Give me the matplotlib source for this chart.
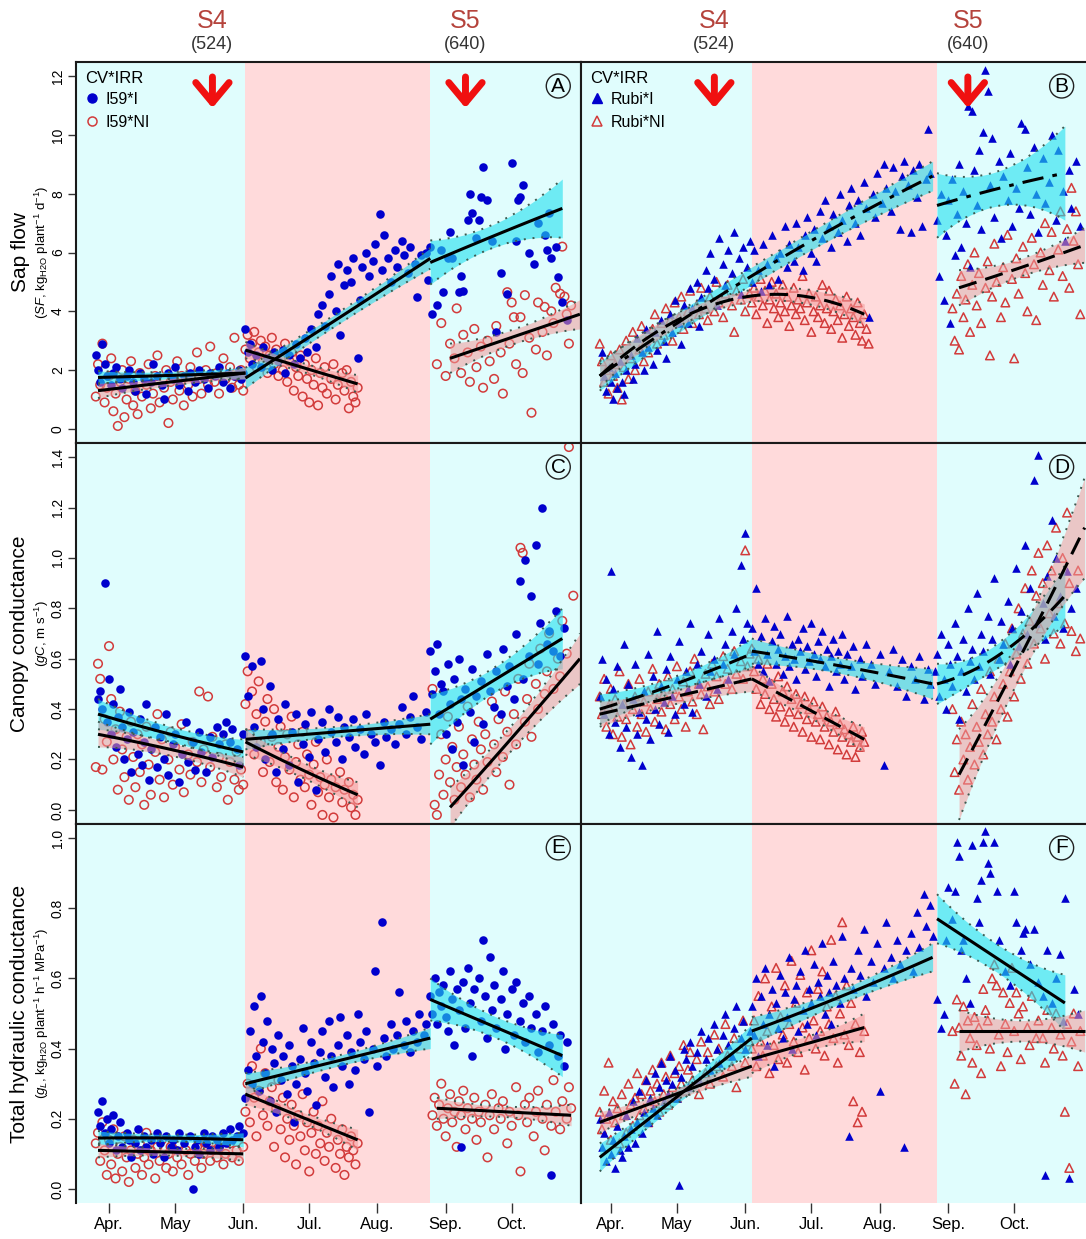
import numpy as np
import matplotlib
matplotlib.use('Agg')
import matplotlib.pyplot as plt
from matplotlib.lines import Line2D

plt.rcParams['font.family'] = ['Liberation Sans', 'DejaVu Sans']
plt.rcParams['mathtext.fontset'] = 'custom'
plt.rcParams['mathtext.rm'] = 'Liberation Sans'
plt.rcParams['mathtext.it'] = 'Liberation Sans:italic'
plt.rcParams['mathtext.bf'] = 'Liberation Sans:bold'

# ---------------- axis / annotation data ----------------
month_ticks = [91, 121, 152, 182, 213, 244, 274]
month_labels = ['Apr.', 'May', 'Jun.', 'Jul.', 'Aug.', 'Sep.', 'Oct.']
periods_i59 = [153, 237]     # start / end of the pink (stress) period
periods_rubi = [155, 239]
stage_names = ['S4', 'S5']
stage_gdd = ['(524)', '(640)']
stage_doy = [138, 253]
panel_letters = ['A', 'B', 'C', 'D', 'E', 'F']
sf_ticks = [0, 2, 4, 6, 8, 10, 12]
gc_ticks = [0.0, 0.2, 0.4, 0.6, 0.8, 1.0, 1.2, 1.4]
gl_ticks = [0.0, 0.2, 0.4, 0.6, 0.8, 1.0]

# ---------------- scatter data (day of year, value) ----------------
sf_i59_I = [(85,2.5),(86,2.0),(87,1.6),(88,2.9),(89,2.2),(90,1.8),(92,1.5),(93,1.9),(94,2.1),(96,1.7),(97,1.4),(99,1.8),(100,2.0),(102,1.6),(103,1.3),(105,1.9),(107,1.7),(108,1.2),(110,1.6),(111,2.2),(113,1.8),(115,1.5),(116,1.0),(118,1.9),(120,1.7),(121,2.1),(123,1.5),(125,1.8),(127,1.3),(128,1.9),(130,1.6),(132,2.0),(134,1.7),(136,1.4),(137,1.9),(139,1.8),(141,2.1),(143,1.6),(145,1.9),(146,1.4),(148,1.8),(150,2.0),(151,1.7),(152,1.9),
    (153,3.4),(154,2.6),(155,2.9),(156,2.2),(158,2.5),(160,2.1),(161,2.8),(163,2.4),(165,2.0),(166,2.6),(168,2.3),(170,2.7),(171,1.9),(173,2.5),(175,2.2),(176,2.9),(178,2.4),(180,3.1),(181,2.6),(183,3.4),(185,2.8),(186,3.9),(188,4.2),(189,3.5),(191,4.6),(192,5.2),(194,4.0),(195,5.6),(196,3.2),(198,4.9),(199,5.4),(201,5.0),(202,5.8),(204,2.4),(205,4.4),(206,5.5),(208,6.0),(209,5.2),(211,5.7),(212,6.3),(214,7.3),(215,5.4),(216,6.6),(218,5.8),(219,5.0),(221,6.1),(222,5.5),(224,6.4),(225,5.9),(227,5.3),(228,6.2),(230,5.6),(231,4.5),(233,5.9),(235,6.0),
    (236,5.05),(237,6.2),(238,3.9),(240,4.2),(242,6.1),(243,4.65),(245,5.8),(246,6.7),(247,5.8),(250,4.65),(251,5.2),(252,4.7),(254,7.1),(255,8.0),(256,7.35),(258,6.5),(259,7.1),(260,7.9),(261,8.9),(263,7.8),(265,6.4),(267,3.3),(269,5.3),(272,4.6),(274,9.05),(276,6.4),(277,7.8),(278,7.9),(279,8.3),(282,6.0),(284,5.6),(286,7.0),(289,6.6),(290,6.1),(291,7.35),(292,5.8),(294,6.2),(295,5.15),(297,4.3),(299,3.7)]
sf_i59_NI = [(85,1.1),(86,2.2),(87,1.5),(88,2.9),(89,0.9),(90,1.4),(91,1.8),(92,2.4),(93,0.6),(94,1.2),(95,0.1),(96,1.6),(97,2.0),(98,0.4),(99,1.0),(100,1.7),(101,2.3),(102,0.8),(103,1.3),(104,0.5),(105,1.9),(106,1.1),(108,1.5),(109,2.2),(110,0.7),(111,1.2),(112,1.8),(113,2.5),(114,0.9),(116,1.4),(117,2.0),(118,0.2),(119,1.6),(120,1.0),(122,2.3),(123,1.3),(124,1.8),(125,0.8),(127,1.5),(128,2.1),(129,1.1),(131,2.6),(132,1.7),(133,1.2),(135,2.0),(136,1.5),(137,2.8),(139,1.6),(140,1.9),(141,1.2),(143,2.4),(144,1.7),(146,2.1),(147,1.4),(148,3.1),(149,1.8),(150,1.5),(151,2.0),(152,1.3),
    (153,2.7),(154,3.2),(155,2.4),(156,2.9),(157,3.3),(158,2.1),(159,2.6),(160,3.0),(161,2.3),(162,2.8),(163,1.9),(164,2.5),(165,3.1),(166,2.2),(167,2.7),(168,1.8),(169,2.4),(170,2.0),(171,2.9),(172,1.6),(173,2.3),(174,2.6),(175,1.3),(176,2.1),(177,1.8),(178,2.5),(179,1.1),(180,2.2),(181,1.7),(182,0.9),(183,2.0),(184,1.5),(185,2.4),(186,0.8),(187,1.9),(188,1.4),(189,2.1),(190,1.2),(192,1.7),(193,2.2),(194,1.0),(195,1.5),(197,1.9),(198,1.3),(199,2.0),(200,0.7),(201,1.6),(202,1.1),(203,0.9),(204,1.4),
    (240,2.2),(242,3.6),(244,1.8),(246,2.9),(248,2.4),(249,4.1),(251,1.9),(252,3.2),(254,2.6),(255,1.6),(257,3.4),(258,2.1),(260,2.8),(261,1.4),(263,3.0),(264,2.3),(266,1.7),(267,3.5),(269,2.6),(270,1.2),(272,4.65),(273,2.9),(274,4.3),(275,3.8),(276,2.2),(278,3.8),(279,1.9),(280,4.55),(282,3.1),(283,0.55),(285,2.7),(286,4.3),(288,3.3),(289,4.15),(290,2.5),(292,4.0),(293,3.6),(294,4.8),(296,4.6),(297,6.2),(298,4.5),(299,3.9),(300,2.9),(301,4.2)]

gc_i59_I = [(86,0.44),(87,0.47),(88,0.40),(89,0.90),(90,0.35),(91,0.52),(92,0.30),(93,0.42),(94,0.25),(95,0.37),(96,0.48),(97,0.33),(98,0.20),(99,0.28),(100,0.39),(101,0.15),(102,0.31),(104,0.22),(105,0.36),(106,0.18),(107,0.27),(108,0.42),(109,0.12),(110,0.24),(112,0.33),(113,0.17),(114,0.29),(116,0.20),(117,0.38),(118,0.14),(120,0.26),(121,0.30),(123,0.11),(124,0.22),(126,0.35),(127,0.19),(129,0.27),(130,0.16),(132,0.31),(133,0.23),(135,0.15),(137,0.29),(138,0.21),(140,0.33),(141,0.26),(143,0.30),(144,0.35),(146,0.27),(147,0.32),(149,0.24),(150,0.18),(152,0.30),
    (153,0.61),(154,0.45),(156,0.57),(157,0.33),(158,0.25),(160,0.59),(161,0.40),(162,0.20),(164,0.49),(165,0.30),(167,0.15),(168,0.36),(170,0.24),(171,0.42),(173,0.18),(174,0.31),(176,0.38),(177,0.11),(179,0.26),(180,0.34),(182,0.21),(183,0.39),(185,0.08),(186,0.28),(188,0.35),(189,0.23),(191,0.40),(192,0.31),(194,0.27),(195,0.37),(197,0.20),(198,0.33),(200,0.29),(202,0.36),(203,0.25),(205,0.32),(207,0.22),(208,0.38),(210,0.30),(212,0.27),(214,0.18),(216,0.35),(217,0.29),(219,0.32),(221,0.26),(223,0.34),(224,0.41),(226,0.30),(228,0.37),(229,0.45),(231,0.33),(233,0.28),(235,0.39),
    (237,0.63),(238,0.46),(239,0.55),(240,0.66),(241,0.38),(242,0.50),(243,0.47),(244,0.30),(245,0.58),(246,0.42),(247,0.24),(248,0.52),(249,0.35),(250,0.60),(251,0.44),(252,0.18),(253,0.48),(255,0.39),(256,0.56),(257,0.27),(258,0.45),(260,0.51),(261,0.34),(263,0.62),(264,0.47),(266,0.41),(267,0.55),(269,0.38),(270,0.64),(272,0.49),(273,0.57),(275,0.44),(276,0.70),(278,0.91),(279,0.52),(280,0.99),(282,0.61),(283,0.85),(285,1.05),(286,0.58),(287,0.74),(288,1.20),(290,0.66),(291,0.71),(293,0.63),(294,0.79),(296,0.61),(298,0.72)]
gc_i59_NI = [(85,0.17),(86,0.58),(87,0.52),(88,0.16),(89,0.36),(90,0.27),(91,0.65),(92,0.44),(93,0.20),(94,0.32),(95,0.08),(96,0.39),(97,0.24),(98,0.13),(99,0.29),(100,0.04),(101,0.35),(102,0.21),(103,0.09),(104,0.30),(105,0.15),(106,0.26),(107,0.02),(108,0.33),(109,0.18),(110,0.06),(112,0.23),(113,0.38),(114,0.12),(115,0.28),(116,0.05),(118,0.20),(119,0.31),(120,0.10),(121,0.25),(123,0.16),(124,0.34),(125,0.07),(127,0.22),(128,0.14),(129,0.27),(131,0.19),(132,0.47),(133,0.11),(134,0.24),(136,0.45),(137,0.17),(138,0.29),(140,0.09),(141,0.21),(142,0.13),(144,0.26),(145,0.04),(146,0.19),(148,0.12),(149,0.23),(150,0.08),(151,0.16),(152,0.10),
    (153,0.42),(154,0.55),(155,0.30),(156,0.47),(157,0.22),(158,0.38),(159,0.51),(160,0.27),(161,0.15),(162,0.35),(163,0.44),(164,0.19),(165,0.29),(166,0.40),(167,0.11),(168,0.25),(169,0.33),(170,0.08),(171,0.21),(172,0.30),(173,0.16),(174,0.37),(175,0.05),(176,0.19),(177,0.26),(178,0.12),(179,0.31),(180,0.09),(181,0.22),(182,0.14),(183,0.02),(184,0.18),(185,0.27),(186,0.07),(187,0.13),(188,-0.02),(189,0.10),(190,0.20),(191,0.05),(192,0.12),(193,-0.03),(194,0.09),(196,0.15),(197,0.03),(198,0.08),(200,0.11),(201,0.01),(202,0.06),(203,-0.02),(204,0.04),
    (238,0.48),(239,0.02),(240,-0.02),(241,0.14),(242,0.30),(243,0.06),(244,0.20),(245,0.37),(246,0.11),(247,0.25),(248,0.04),(249,0.17),(250,0.33),(251,0.09),(252,0.22),(253,0.14),(254,0.41),(255,0.05),(256,0.28),(257,0.18),(258,0.12),(259,0.35),(260,0.24),(261,0.08),(262,0.30),(263,0.19),(265,0.43),(266,0.26),(267,0.15),(268,0.36),(270,0.21),(271,0.47),(272,0.31),(273,0.10),(275,0.38),(276,0.26),(277,0.52),(278,1.04),(279,1.02),(280,0.35),(281,0.44),(282,0.58),(283,0.29),(285,0.50),(286,0.40),(287,0.64),(289,0.46),(290,0.55),(291,0.70),(293,0.48),(295,0.60),(296,0.53),(297,0.75),(299,0.62),(300,1.44),(302,0.85)]

gl_i59_I = [(86,0.22),(87,0.18),(88,0.25),(89,0.16),(90,0.20),(91,0.13),(92,0.17),(93,0.21),(94,0.11),(95,0.15),(96,0.19),(97,0.12),(99,0.16),(100,0.14),(101,0.09),(103,0.13),(104,0.17),(105,0.11),(107,0.15),(108,0.12),(110,0.14),(111,0.10),(113,0.16),(114,0.13),(116,0.09),(117,0.15),(119,0.12),(120,0.14),(122,0.11),(123,0.16),(125,0.13),(129,0.00),(128,0.15),(130,0.12),(131,0.14),(132,0.10),(134,0.16),(135,0.13),(137,0.11),(138,0.15),(140,0.14),(141,0.12),(143,0.16),(144,0.13),(146,0.17),(147,0.14),(149,0.15),(150,0.18),(152,0.16),
    (153,0.26),(154,0.34),(155,0.45),(156,0.30),(157,0.52),(158,0.38),(159,0.28),(160,0.55),(161,0.42),(162,0.33),(163,0.48),(164,0.25),(165,0.40),(166,0.36),(167,0.22),(168,0.44),(169,0.31),(170,0.38),(172,0.27),(173,0.41),(174,0.35),(175,0.19),(176,0.30),(178,0.37),(179,0.46),(180,0.33),(181,0.28),(183,0.42),(184,0.36),(185,0.24),(187,0.39),(188,0.45),(189,0.32),(191,0.48),(192,0.38),(193,0.29),(195,0.41),(196,0.49),(197,0.35),(199,0.44),(200,0.30),(201,0.39),(203,0.34),(204,0.50),(205,0.42),(207,0.37),(208,0.45),(209,0.22),(211,0.40),(212,0.62),(213,0.35),(215,0.76),(216,0.43),(217,0.38),(219,0.47),(220,0.40),(222,0.44),(223,0.56),(225,0.41),(226,0.48),(228,0.39),(229,0.45),(231,0.42),(232,0.50),(234,0.44),(235,0.47),
    (237,0.55),(238,0.50),(239,0.60),(240,0.47),(241,0.56),(242,0.52),(243,0.58),(244,0.49),(245,0.45),(246,0.62),(247,0.54),(248,0.41),(249,0.57),(250,0.51),(251,0.12),(252,0.59),(253,0.46),(254,0.63),(255,0.53),(256,0.38),(257,0.57),(259,0.60),(260,0.48),(261,0.71),(262,0.55),(263,0.43),(264,0.66),(265,0.51),(266,0.58),(267,0.46),(269,0.54),(270,0.62),(271,0.40),(272,0.50),(274,0.57),(275,0.44),(276,0.59),(278,0.48),(279,0.53),(280,0.42),(282,0.55),(283,0.46),(285,0.50),(286,0.39),(288,0.45),(289,0.52),(291,0.41),(292,0.04),(293,0.47),(295,0.38),(296,0.44),(298,0.35),(299,0.42)]
gl_i59_NI = [(85,0.13),(86,0.16),(87,0.08),(88,0.19),(89,0.11),(90,0.04),(91,0.14),(92,0.07),(93,0.17),(94,0.03),(95,0.10),(96,0.12),(97,0.05),(98,0.15),(99,0.09),(100,0.02),(101,0.11),(102,0.14),(103,0.06),(104,0.10),(105,0.13),(106,0.04),(107,0.09),(108,0.16),(109,0.07),(110,0.11),(112,0.03),(113,0.12),(114,0.08),(115,0.14),(117,0.06),(118,0.10),(119,0.12),(120,0.05),(122,0.09),(123,0.13),(124,0.07),(126,0.11),(127,0.04),(128,0.10),(130,0.08),(131,0.12),(133,0.06),(134,0.10),(135,0.13),(137,0.08),(138,0.11),(140,0.09),(141,0.12),(143,0.07),(144,0.10),(146,0.13),(147,0.09),(149,0.11),(150,0.08),(152,0.12),
    (153,0.22),(154,0.30),(155,0.19),(156,0.35),(157,0.26),(158,0.15),(159,0.28),(160,0.40),(161,0.21),(162,0.33),(163,0.18),(164,0.25),(165,0.29),(166,0.12),(167,0.23),(168,0.31),(169,0.17),(170,0.26),(171,0.09),(172,0.20),(173,0.14),(174,0.24),(175,0.18),(176,0.07),(177,0.21),(178,0.15),(179,0.27),(180,0.11),(181,0.19),(182,0.05),(183,0.16),(184,0.22),(185,0.10),(186,0.18),(187,0.13),(188,0.25),(189,0.08),(190,0.16),(191,0.12),(192,0.20),(194,0.06),(195,0.14),(196,0.10),(197,0.17),(198,0.04),(199,0.12),(200,0.09),(201,0.15),(202,0.11),(203,0.07),(204,0.13),
    (238,0.21),(239,0.26),(240,0.18),(241,0.24),(242,0.30),(243,0.20),(244,0.15),(245,0.23),(246,0.27),(247,0.19),(248,0.22),(249,0.12),(250,0.25),(251,0.21),(252,0.28),(253,0.17),(254,0.23),(256,0.20),(257,0.26),(258,0.14),(259,0.22),(260,0.19),(262,0.24),(263,0.09),(264,0.21),(265,0.27),(266,0.17),(268,0.23),(269,0.20),(270,0.25),(272,0.13),(273,0.22),(274,0.18),(276,0.29),(277,0.21),(278,0.05),(280,0.24),(281,0.19),(282,0.26),(284,0.15),(285,0.22),(286,0.28),(288,0.20),(289,0.11),(290,0.24),(292,0.18),(293,0.31),(294,0.22),(296,0.17),(297,0.25),(299,0.20),(300,0.29),(301,0.23)]

sf_rubi_I = [(87,2.6),(88,1.8),(89,1.3),(90,2.1),(91,1.6),(92,1.0),(93,1.9),(94,1.4),(95,2.3),(96,1.6),(97,1.2),(98,2.0),(100,2.5),(101,1.7),(102,2.2),(103,3.1),(105,2.6),(106,2.0),(107,3.4),(108,2.8),(110,2.2),(111,3.3),(112,2.7),(114,3.7),(115,3.0),(116,2.4),(118,3.9),(119,3.3),(120,4.4),(122,3.6),(123,2.9),(124,4.2),(126,3.6),(127,4.8),(128,4.1),(130,5.0),(131,3.5),(132,4.5),(134,5.4),(135,4.8),(136,6.0),(138,5.1),(139,4.2),(140,6.5),(142,5.6),(143,4.9),(144,6.1),(146,5.3),(147,6.7),(149,5.8),(150,4.6),(151,6.2),(153,5.5),(154,6.4),
    (155,5.0),(156,6.1),(158,5.4),(159,4.7),(160,6.3),(162,5.6),(163,4.9),(164,6.6),(166,5.8),(167,5.1),(168,6.0),(170,6.9),(171,5.5),(172,6.3),(174,5.7),(175,7.0),(176,6.2),(178,5.4),(179,6.6),(180,7.2),(182,6.0),(183,6.8),(184,5.7),(186,7.4),(187,6.5),(188,7.8),(190,6.9),(191,6.2),(192,7.3),(194,6.7),(195,8.0),(196,7.1),(198,6.4),(199,7.6),(200,8.2),(202,7.0),(203,7.8),(204,6.6),(206,8.4),(207,7.5),(208,3.8),(210,8.0),(211,7.2),(212,8.7),(214,7.7),(215,9.0),(216,8.2),(218,7.4),(219,8.9),(220,8.1),(222,6.8),(223,8.6),(224,9.1),(226,8.3),(227,6.7),(228,8.8),(230,7.9),(231,9.0),(232,6.9),(234,8.5),(235,10.2),(236,8.7),
    (239,7.1),(240,5.2),(241,8.0),(242,4.4),(243,6.6),(244,7.8),(245,3.6),(246,8.5),(247,5.9),(248,7.3),(249,9.0),(250,6.2),(251,8.1),(252,7.0),(253,11.0),(254,5.5),(255,10.8),(256,8.8),(257,7.6),(258,9.5),(259,6.8),(260,10.1),(261,12.2),(262,11.5),(263,8.3),(264,9.9),(265,7.2),(267,9.1),(268,6.5),(269,8.6),(271,7.8),(272,9.4),(273,6.9),(275,8.2),(276,7.5),(277,10.4),(279,10.2),(280,8.9),(281,7.3),(283,9.6),(284,8.0),(285,6.7),(287,9.2),(288,7.7),(290,8.4),(291,10.0),(293,7.1),(294,9.5),(296,8.1),(297,6.4),(299,8.8),(300,7.5),(302,9.1),(304,6.9)]
sf_rubi_NI = [(86,2.9),(87,2.3),(88,1.6),(89,2.0),(90,1.2),(91,2.5),(92,1.8),(93,2.2),(94,1.4),(95,2.7),(96,1.0),(97,2.1),(98,3.0),(99,1.7),(100,2.4),(101,3.3),(102,2.0),(104,2.7),(105,3.5),(106,2.3),(107,3.0),(108,2.6),(110,3.4),(111,3.9),(112,2.9),(114,3.6),(115,3.2),(116,4.1),(118,3.7),(119,3.0),(120,4.3),(122,3.8),(123,4.5),(124,3.4),(126,4.0),(127,4.7),(128,3.6),(130,4.2),(131,3.9),(132,4.8),(134,4.1),(135,3.7),(136,4.5),(138,4.0),(139,5.0),(140,4.3),(142,3.8),(143,4.6),(144,4.9),(146,4.2),(147,3.3),(148,4.7),(150,4.4),(151,5.1),(152,4.0),(154,4.6),
    (155,4.3),(156,4.8),(157,3.9),(158,4.5),(159,5.1),(160,4.2),(161,4.7),(162,3.6),(163,4.4),(164,5.0),(165,4.1),(166,4.6),(167,3.8),(168,4.3),(169,4.9),(170,4.0),(171,4.5),(172,3.5),(173,4.2),(174,4.8),(175,3.9),(176,4.4),(177,4.1),(178,5.2),(179,3.7),(180,4.3),(181,4.6),(182,3.3),(183,4.0),(184,4.5),(185,3.8),(186,4.2),(187,4.9),(188,3.6),(189,4.1),(190,4.7),(191,3.4),(192,4.0),(193,4.4),(194,3.7),(195,4.2),(196,3.1),(197,3.9),(198,4.5),(199,3.5),(200,4.1),(201,3.8),(202,3.2),(203,4.3),(204,3.6),(205,3.0),(206,3.9),(207,3.4),(208,2.9),
    (246,4.1),(247,3.0),(248,4.6),(249,2.7),(250,5.2),(251,3.8),(252,4.4),(253,5.6),(254,3.3),(255,4.9),(256,6.0),(257,4.2),(258,5.3),(259,3.6),(261,4.8),(262,5.7),(263,2.5),(264,4.5),(265,6.3),(266,5.0),(268,3.8),(269,5.5),(270,4.3),(271,6.6),(273,5.1),(274,2.4),(275,5.8),(276,4.6),(278,6.2),(279,5.3),(280,4.0),(282,6.5),(283,5.6),(284,3.7),(286,6.0),(287,4.9),(288,7.0),(290,5.4),(291,6.7),(292,4.5),(294,6.1),(295,7.4),(296,5.2),(298,6.8),(299,4.8),(300,8.2),(301,6.4),(302,7.4),(303,5.6),(304,3.9)]

gc_rubi_I = [(86,0.45),(87,0.60),(88,0.38),(89,0.52),(90,0.30),(91,0.95),(92,0.48),(93,0.35),(94,0.57),(95,0.25),(96,0.42),(97,0.66),(98,0.33),(99,0.50),(100,0.21),(101,0.44),(102,0.58),(103,0.30),(104,0.39),(105,0.18),(106,0.47),(107,0.36),(108,0.62),(109,0.28),(110,0.53),(111,0.40),(112,0.71),(113,0.34),(114,0.49),(115,0.43),(116,0.56),(117,0.31),(118,0.61),(119,0.45),(120,0.38),(121,0.52),(122,0.67),(124,0.42),(125,0.55),(126,0.48),(127,0.74),(128,0.39),(130,0.58),(131,0.50),(132,0.63),(134,0.45),(135,0.70),(136,0.55),(138,0.60),(139,0.48),(140,0.76),(142,0.58),(143,0.66),(144,0.52),(146,0.71),(147,0.62),(148,0.80),(150,0.97),(151,0.68),(152,1.10),(153,0.74),
    (155,0.72),(156,0.63),(157,0.88),(158,0.58),(159,0.69),(160,0.55),(161,0.76),(162,0.62),(163,0.51),(164,0.67),(165,0.73),(166,0.58),(167,0.64),(168,0.70),(169,0.54),(170,0.61),(171,0.77),(172,0.57),(173,0.66),(174,0.60),(175,0.52),(176,0.68),(177,0.63),(178,0.72),(179,0.56),(180,0.65),(181,0.59),(182,0.74),(183,0.62),(184,0.53),(185,0.67),(186,0.60),(187,0.71),(188,0.57),(189,0.64),(190,0.49),(191,0.61),(192,0.68),(193,0.55),(194,0.63),(195,0.58),(196,0.70),(197,0.52),(198,0.62),(200,0.57),(201,0.65),(202,0.48),(204,0.60),(205,0.53),(207,0.66),(209,0.58),(211,0.50),(213,0.62),(215,0.18),(217,0.55),(219,0.64),(221,0.49),(223,0.60),(225,0.45),(227,0.57),(229,0.52),(231,0.61),(233,0.44),(235,0.56),(236,0.50),
    (238,0.55),(239,0.62),(240,0.45),(241,0.70),(242,0.52),(243,0.40),(244,0.66),(245,0.58),(246,0.49),(247,0.74),(248,0.61),(249,0.36),(250,0.55),(251,0.68),(252,0.47),(253,0.80),(254,0.59),(255,0.64),(256,0.52),(257,0.86),(258,0.57),(259,0.70),(260,0.63),(262,0.77),(263,0.54),(264,0.68),(265,0.92),(267,0.60),(268,0.75),(269,0.66),(271,0.83),(272,0.58),(273,0.72),(275,0.96),(276,0.65),(277,0.79),(279,1.05),(280,0.70),(281,0.88),(283,1.31),(284,0.74),(285,1.41),(287,0.82),(288,0.68),(289,0.93),(291,1.15),(292,0.77),(293,1.00),(295,0.85),(296,0.72),(298,0.95),(300,0.80),(302,0.88)]
gc_rubi_NI = [(86,0.45),(87,0.38),(88,0.52),(89,0.33),(90,0.41),(91,0.48),(92,0.30),(93,0.44),(94,0.37),(95,0.55),(96,0.29),(97,0.42),(98,0.36),(99,0.50),(100,0.26),(101,0.40),(102,0.45),(103,0.33),(104,0.52),(105,0.38),(106,0.43),(107,0.31),(108,0.47),(109,0.40),(110,0.56),(111,0.35),(112,0.44),(113,0.50),(114,0.39),(115,0.46),(116,0.32),(117,0.53),(118,0.42),(119,0.48),(120,0.36),(121,0.57),(122,0.45),(123,0.40),(124,0.51),(125,0.33),(126,0.47),(127,0.55),(128,0.43),(129,0.60),(130,0.38),(131,0.50),(132,0.46),(133,0.32),(134,0.54),(135,0.49),(136,0.42),(137,0.58),(138,0.47),(139,0.53),(140,0.44),(142,0.61),(143,0.50),(144,0.56),(146,0.48),(147,0.63),(148,0.54),(150,0.59),(151,0.52),(152,1.03),(153,0.57),(154,0.62),
    (155,0.64),(156,0.55),(157,0.48),(158,0.60),(159,0.42),(160,0.52),(161,0.46),(162,0.58),(163,0.40),(164,0.50),(165,0.44),(166,0.37),(167,0.53),(168,0.41),(169,0.47),(170,0.35),(171,0.49),(172,0.39),(173,0.44),(174,0.33),(175,0.46),(176,0.38),(177,0.42),(178,0.31),(179,0.45),(180,0.36),(181,0.40),(182,0.29),(183,0.43),(184,0.35),(185,0.38),(186,0.28),(187,0.41),(188,0.33),(189,0.37),(190,0.26),(191,0.35),(192,0.31),(193,0.39),(194,0.24),(195,0.34),(196,0.29),(197,0.32),(198,0.22),(199,0.30),(200,0.27),(201,0.33),(202,0.21),(203,0.29),(204,0.25),(205,0.31),(206,0.27),
    (246,0.40),(247,0.15),(248,0.28),(249,0.08),(250,0.35),(251,0.20),(252,0.30),(253,0.12),(254,0.25),(255,0.42),(256,0.18),(257,0.33),(258,0.27),(259,0.48),(260,0.22),(261,0.38),(262,0.30),(263,0.55),(264,0.35),(265,0.45),(266,0.28),(267,0.60),(268,0.40),(269,0.50),(270,0.66),(271,0.37),(272,0.55),(273,0.72),(274,0.45),(275,0.62),(276,0.80),(277,0.52),(278,0.70),(279,0.88),(280,0.58),(281,0.75),(282,0.95),(283,0.66),(284,0.85),(285,1.02),(286,0.72),(287,0.90),(288,0.60),(289,1.05),(290,0.78),(291,0.95),(292,0.70),(293,1.12),(294,0.82),(295,0.66),(296,1.00),(297,0.74),(298,1.18),(299,0.90),(300,0.71),(302,0.63),(303,0.95),(304,0.68)]

gl_rubi_I = [(86,0.20),(87,0.12),(88,0.16),(89,0.08),(90,0.22),(91,0.10),(92,0.14),(93,0.06),(94,0.18),(95,0.11),(96,0.09),(97,0.15),(98,0.21),(99,0.12),(100,0.17),(101,0.25),(102,0.13),(103,0.19),(104,0.28),(105,0.16),(106,0.22),(107,0.31),(108,0.19),(109,0.26),(110,0.23),(111,0.33),(112,0.21),(113,0.29),(114,0.36),(115,0.25),(116,0.31),(117,0.27),(118,0.38),(119,0.30),(120,0.34),(121,0.26),(122,0.01),(123,0.32),(124,0.40),(125,0.37),(126,0.29),(127,0.42),(128,0.35),(130,0.39),(131,0.31),(132,0.45),(134,0.37),(135,0.43),(136,0.34),(138,0.47),(139,0.40),(140,0.36),(142,0.44),(143,0.50),(144,0.41),(146,0.38),(147,0.46),(148,0.52),(150,0.43),(151,0.48),(152,0.40),(154,0.45),
    (155,0.52),(156,0.44),(157,0.60),(158,0.38),(159,0.55),(160,0.47),(161,0.63),(162,0.41),(163,0.50),(164,0.57),(165,0.35),(166,0.53),(167,0.46),(168,0.61),(169,0.43),(170,0.56),(171,0.49),(172,0.66),(173,0.40),(174,0.54),(175,0.58),(176,0.45),(177,0.62),(178,0.51),(179,0.68),(180,0.47),(181,0.57),(182,0.53),(183,0.64),(184,0.44),(185,0.59),(186,0.55),(187,0.70),(188,0.50),(189,0.61),(190,0.56),(191,0.47),(192,0.65),(193,0.58),(195,0.53),(196,0.72),(197,0.60),(199,0.15),(200,0.63),(201,0.57),(203,0.68),(204,0.61),(206,0.74),(207,0.55),(209,0.65),(210,0.59),(212,0.70),(213,0.28),(215,0.63),(216,0.76),(218,0.66),(219,0.60),(221,0.71),(222,0.64),(224,0.12),(225,0.68),(227,0.73),(228,0.62),(230,0.79),(231,0.69),(233,0.84),(234,0.75),(236,0.81),(237,0.72),
    (239,0.54),(241,0.46),(242,0.50),(243,0.71),(244,0.86),(246,0.77),(247,0.85),(248,0.99),(249,0.95),(250,0.68),(251,0.71),(252,0.60),(254,0.53),(255,0.98),(257,0.83),(258,0.76),(259,0.88),(260,0.99),(261,1.02),(262,0.93),(263,0.90),(265,0.99),(266,0.85),(267,0.71),(270,0.62),(272,0.58),(274,0.85),(275,0.76),(277,0.68),(278,0.73),(279,0.74),(281,0.64),(283,0.74),(285,0.59),(287,0.55),(288,0.04),(289,0.68),(291,0.53),(293,0.60),(295,0.67),(296,0.48),(297,0.83),(299,0.03),(301,0.57),(303,0.50)]
gl_rubi_NI = [(86,0.22),(87,0.17),(88,0.28),(89,0.20),(90,0.36),(91,0.14),(92,0.25),(93,0.19),(94,0.23),(95,0.13),(96,0.27),(97,0.21),(98,0.16),(99,0.30),(100,0.24),(101,0.18),(102,0.26),(103,0.33),(104,0.21),(105,0.27),(106,0.23),(107,0.31),(108,0.19),(109,0.28),(110,0.34),(111,0.25),(112,0.30),(113,0.22),(114,0.36),(115,0.27),(116,0.32),(117,0.24),(118,0.38),(119,0.29),(120,0.33),(121,0.26),(122,0.35),(123,0.30),(124,0.41),(125,0.28),(126,0.34),(127,0.39),(128,0.31),(130,0.37),(131,0.27),(132,0.42),(134,0.33),(135,0.39),(136,0.30),(138,0.44),(139,0.35),(140,0.40),(142,0.32),(143,0.47),(144,0.38),(146,0.35),(147,0.43),(148,0.29),(150,0.40),(151,0.48),(152,0.36),(154,0.42),
    (155,0.40),(156,0.48),(157,0.35),(158,0.55),(159,0.42),(160,0.38),(161,0.60),(162,0.45),(163,0.33),(164,0.52),(165,0.41),(166,0.63),(167,0.37),(168,0.49),(169,0.44),(170,0.58),(171,0.36),(172,0.47),(173,0.65),(174,0.42),(175,0.53),(176,0.39),(177,0.61),(178,0.46),(179,0.34),(180,0.56),(181,0.43),(182,0.68),(183,0.48),(184,0.40),(185,0.57),(186,0.45),(187,0.62),(188,0.38),(189,0.52),(190,0.47),(191,0.71),(192,0.43),(193,0.55),(194,0.36),(195,0.50),(196,0.76),(197,0.44),(198,0.58),(199,0.41),(200,0.53),(201,0.25),(202,0.47),(203,0.19),(204,0.39),(205,0.22),(206,0.45),
    (246,0.45),(247,0.30),(248,0.54),(249,0.46),(250,0.38),(251,0.52),(252,0.27),(253,0.48),(254,0.43),(255,0.36),(256,0.49),(257,0.41),(258,0.46),(259,0.33),(260,0.57),(261,0.51),(262,0.48),(263,0.40),(264,0.60),(265,0.64),(266,0.58),(267,0.44),(268,0.35),(269,0.56),(270,0.47),(271,0.39),(272,0.53),(273,0.63),(274,0.45),(275,0.56),(276,0.50),(277,0.37),(278,0.52),(280,0.46),(281,0.41),(282,0.55),(284,0.43),(285,0.48),(287,0.43),(288,0.36),(289,0.51),(291,0.46),(292,0.40),(293,0.50),(295,0.44),(296,0.38),(297,0.22),(298,0.47),(299,0.06),(300,0.42),(301,0.50),(303,0.35),(304,0.45)]

# ---------------- fitted trends ----------------
# (treatment, x_start, x_end, y_start, y_mid, y_end, ci_start, ci_mid, ci_end)
fit_sf_i59 = [('I', 86, 153, 1.75, 1.82, 1.90, 0.22, 0.12, 0.20),
              ('I', 153, 237, 1.73, 3.75, 5.80, 0.35, 0.20, 0.35),
              ('I', 237, 297, 5.66, 6.60, 7.50, 0.75, 0.40, 1.00),
              ('NI', 86, 153, 1.30, 1.60, 1.90, 0.25, 0.12, 0.20),
              ('NI', 153, 204, 2.68, 2.10, 1.53, 0.28, 0.15, 0.30),
              ('NI', 246, 305, 2.40, 3.15, 3.90, 0.50, 0.25, 0.50)]
fit_sf_rubi = [('I', 86, 237, 1.80, 5.50, 8.60, 0.50, 0.30, 0.50),
               ('I', 239, 297, 7.60, 8.20, 8.70, 1.10, 0.60, 1.60),
               ('NI', 86, 206, 1.80, 4.40, 3.90, 0.40, 0.20, 0.35),
               ('NI', 249, 306, 4.80, 5.50, 6.25, 0.60, 0.30, 0.60)]
fit_gc_i59 = [('I', 86, 152, 0.38, 0.30, 0.23, 0.06, 0.03, 0.05),
              ('I', 153, 237, 0.28, 0.31, 0.34, 0.04, 0.02, 0.04),
              ('I', 237, 297, 0.36, 0.52, 0.68, 0.10, 0.05, 0.12),
              ('NI', 86, 152, 0.30, 0.24, 0.17, 0.05, 0.025, 0.04),
              ('NI', 153, 204, 0.27, 0.16, 0.06, 0.05, 0.03, 0.05),
              ('NI', 246, 305, 0.01, 0.30, 0.60, 0.08, 0.05, 0.10)]
fit_gc_rubi = [('I', 86, 155, 0.40, 0.50, 0.62, 0.06, 0.03, 0.06),
               ('I', 155, 237, 0.63, 0.57, 0.50, 0.05, 0.03, 0.06),
               ('I', 239, 297, 0.50, 0.62, 0.85, 0.08, 0.05, 0.12),
               ('NI', 86, 155, 0.38, 0.45, 0.52, 0.05, 0.03, 0.05),
               ('NI', 155, 206, 0.52, 0.40, 0.28, 0.05, 0.03, 0.05),
               ('NI', 249, 306, 0.14, 0.62, 1.12, 0.18, 0.08, 0.20)]
fit_gl_i59 = [('I', 86, 152, 0.145, 0.145, 0.14, 0.02, 0.01, 0.02),
              ('I', 153, 237, 0.30, 0.365, 0.43, 0.03, 0.015, 0.03),
              ('I', 237, 297, 0.54, 0.46, 0.38, 0.06, 0.03, 0.06),
              ('NI', 86, 152, 0.11, 0.105, 0.10, 0.02, 0.01, 0.02),
              ('NI', 153, 204, 0.27, 0.205, 0.14, 0.03, 0.015, 0.03),
              ('NI', 240, 301, 0.23, 0.22, 0.21, 0.03, 0.015, 0.03)]
fit_gl_rubi = [('I', 86, 155, 0.09, 0.26, 0.43, 0.04, 0.02, 0.04),
               ('I', 155, 237, 0.45, 0.55, 0.66, 0.04, 0.02, 0.04),
               ('I', 239, 297, 0.77, 0.65, 0.53, 0.07, 0.04, 0.08),
               ('NI', 86, 155, 0.19, 0.27, 0.35, 0.03, 0.015, 0.03),
               ('NI', 155, 206, 0.37, 0.415, 0.46, 0.04, 0.02, 0.04),
               ('NI', 249, 306, 0.45, 0.45, 0.45, 0.06, 0.03, 0.06)]

# ---------------- styling ----------------
W, H = 1086, 1239
fig = plt.figure(figsize=(W / 100, H / 100), dpi=100)
CYAN_BG = '#E0FDFD'
PINK_BG = '#FFDADB'
BLUE = '#0000CD'
RED = '#D23B3B'
BAND = {'I': '#22E0EE', 'NI': '#F39A9A'}
BAND_ALPHA = {'I': 0.60, 'NI': 0.55}
narrow = ['Liberation Sans', 'DejaVu Sans']

col_px = [(76, 505, 76.0, 305.5), (581, 507, 77.5, 307.5)]
row_px = [(62, 443), (443, 824), (824, 1203)]
row_ylim = [(0, 12), (0, 1.4), (0, 1.0)]
row_ticks = [sf_ticks, gc_ticks, gl_ticks]

panels = [
    [(sf_i59_I, sf_i59_NI, fit_sf_i59, periods_i59), (sf_rubi_I, sf_rubi_NI, fit_sf_rubi, periods_rubi)],
    [(gc_i59_I, gc_i59_NI, fit_gc_i59, periods_i59), (gc_rubi_I, gc_rubi_NI, fit_gc_rubi, periods_rubi)],
    [(gl_i59_I, gl_i59_NI, fit_gl_i59, periods_i59), (gl_rubi_I, gl_rubi_NI, fit_gl_rubi, periods_rubi)],
]
line_styles = [
    [{'I': '-', 'NI': '-'}, {'I': (0, (7, 3, 1.5, 3)), 'NI': (0, (6, 3))}],
    [{'I': '-', 'NI': '-'}, {'I': (0, (6, 3)), 'NI': (0, (6, 3))}],
    [{'I': '-', 'NI': '-'}, {'I': '-', 'NI': '-'}],
]


def draw_fit(ax, fit, ls):
    trt, x0, x1, y0, ym, y1, h0, hm, h1 = fit
    xm = 0.5 * (x0 + x1)
    xs = np.linspace(x0, x1, 80)
    y = np.polyval(np.polyfit([x0, xm, x1], [y0, ym, y1], 2), xs)
    h = np.polyval(np.polyfit([x0, xm, x1], [h0, hm, h1], 2), xs)
    ax.fill_between(xs, y - h, y + h, color=BAND[trt], alpha=BAND_ALPHA[trt], lw=0, zorder=4)
    for edge in (y - h, y + h):
        ax.plot(xs, edge, ls=(0, (1, 3.5)), color='#3C5A50', lw=1.4, zorder=5)
    ax.plot(xs, y, color='black', lw=2.2, ls=ls, zorder=6, solid_capstyle='butt')


for r in range(3):
    for c in range(2):
        left, width, xl0, xl1 = col_px[c]
        top, bottom = row_px[r]
        ax = fig.add_axes([left / W, 1 - bottom / H, width / W, (bottom - top) / H])
        ax.set_xlim(xl0, xl1)
        lo, hi = row_ylim[r]
        pad = 0.04 * (hi - lo)
        ax.set_ylim(lo - pad, hi + pad)
        dI, dNI, fits, per = panels[r][c]
        ax.axvspan(xl0, per[0], color=CYAN_BG, lw=0, zorder=0)
        ax.axvspan(per[0], per[1], color=PINK_BG, lw=0, zorder=0)
        ax.axvspan(per[1], xl1, color=CYAN_BG, lw=0, zorder=0)
        aI = np.array(dI)
        aN = np.array(dNI)
        mk = 'o' if c == 0 else '^'
        ax.scatter(aN[:, 0], aN[:, 1], s=38, marker=mk, facecolors='none', edgecolors=RED,
                   linewidths=1.1, zorder=2, clip_on=True)
        ax.scatter(aI[:, 0], aI[:, 1], s=38, marker=mk, color=BLUE, lw=0, zorder=3)
        for f in fits:
            draw_fit(ax, f, line_styles[r][c][f[0]])
        for sp in ax.spines.values():
            sp.set_linewidth(1.5)
            sp.set_color('#1a1a1a')
            sp.set_zorder(10)
        if r == 2:
            ax.spines['bottom'].set_visible(False)
            ax.set_xticks(month_ticks)
            ax.set_xticklabels(month_labels, family=narrow, fontsize=12)
            ax.tick_params(axis='x', length=7, width=1, pad=3, color='#333')
        else:
            ax.set_xticks([])
        if c == 0:
            ax.set_yticks(row_ticks[r])
            labs = [('%d' % t) if r == 0 else ('%.1f' % t) for t in row_ticks[r]]
            ax.set_yticklabels(labs, family=narrow, fontsize=10, rotation=90, va='center')
            ax.tick_params(axis='y', length=6, width=1, pad=2, color='#333')
        else:
            ax.set_yticks([])
        # panel letter
        ax.text(0.955 if c == 0 else 0.948, 0.937, panel_letters[2 * r + c], transform=ax.transAxes,
                ha='center', va='center', fontsize=15, zorder=12,
                bbox=dict(boxstyle='circle,pad=0.12', fc='none', ec='#222', lw=1.0))
        if r == 0:
            trans = ax.get_xaxis_transform()
            for name, gdd, d in zip(stage_names, stage_gdd, stage_doy):
                ax.text(d, 1.108, name, transform=trans, ha='center', va='center',
                        fontsize=18, color='#B5433C', clip_on=False)
                ax.text(d, 1.047, gdd, transform=trans, ha='center', va='center',
                        fontsize=13, color='#333333', clip_on=False)
                ax.annotate('', xy=(d, 0.872), xytext=(d, 0.968), xycoords=trans,
                            arrowprops=dict(arrowstyle='->,head_length=0.6,head_width=0.5',
                                            color='#F01010', lw=5, mutation_scale=24),
                            zorder=12)
            if c == 0:
                hs = [Line2D([], [], marker='o', ls='', color=BLUE, ms=6.5),
                      Line2D([], [], marker='o', ls='', mfc='none', mec=RED, mew=1.1, ms=6.5)]
                labels = ['I59*I', 'I59*NI']
            else:
                hs = [Line2D([], [], marker='^', ls='', color=BLUE, ms=6.5),
                      Line2D([], [], marker='^', ls='', mfc='none', mec=RED, mew=1.1, ms=6.5)]
                labels = ['Rubi*I', 'Rubi*NI']
            lg = ax.legend(hs, labels, title='CV*IRR', loc='upper left', bbox_to_anchor=(-0.005, 1.012),
                           frameon=False, fontsize=11.5, title_fontsize=12, alignment='left',
                           handlelength=0.9, handletextpad=0.4, labelspacing=0.5, borderaxespad=0.3)
            lg.get_title().set_position((0, -2))
            lg.set_zorder(12)

# y-axis labels
ylabels = [('Sap flow', r'($\it{SF}$, kg$_{\rm H2O}$ plant$^{-1}$ d$^{-1}$)'),
           ('Canopy conductance', r'($\it{gC}$, m s$^{-1}$)'),
           ('Total hydraulic conductance', r'($\it{g}_{\it{L}}$, kg$_{\rm H2O}$ plant$^{-1}$ h$^{-1}$ MPa$^{-1}$)')]
for (top, bottom), (main, sub) in zip(row_px, ylabels):
    yc = 1 - (top + bottom) / 2 / H
    fig.text(20 / W, yc, main, rotation=90, ha='center', va='center', fontsize=15)
    fig.text(42 / W, yc, sub, rotation=90, ha='center', va='center', fontsize=9.5)

fig.savefig('out.png', dpi=100)
